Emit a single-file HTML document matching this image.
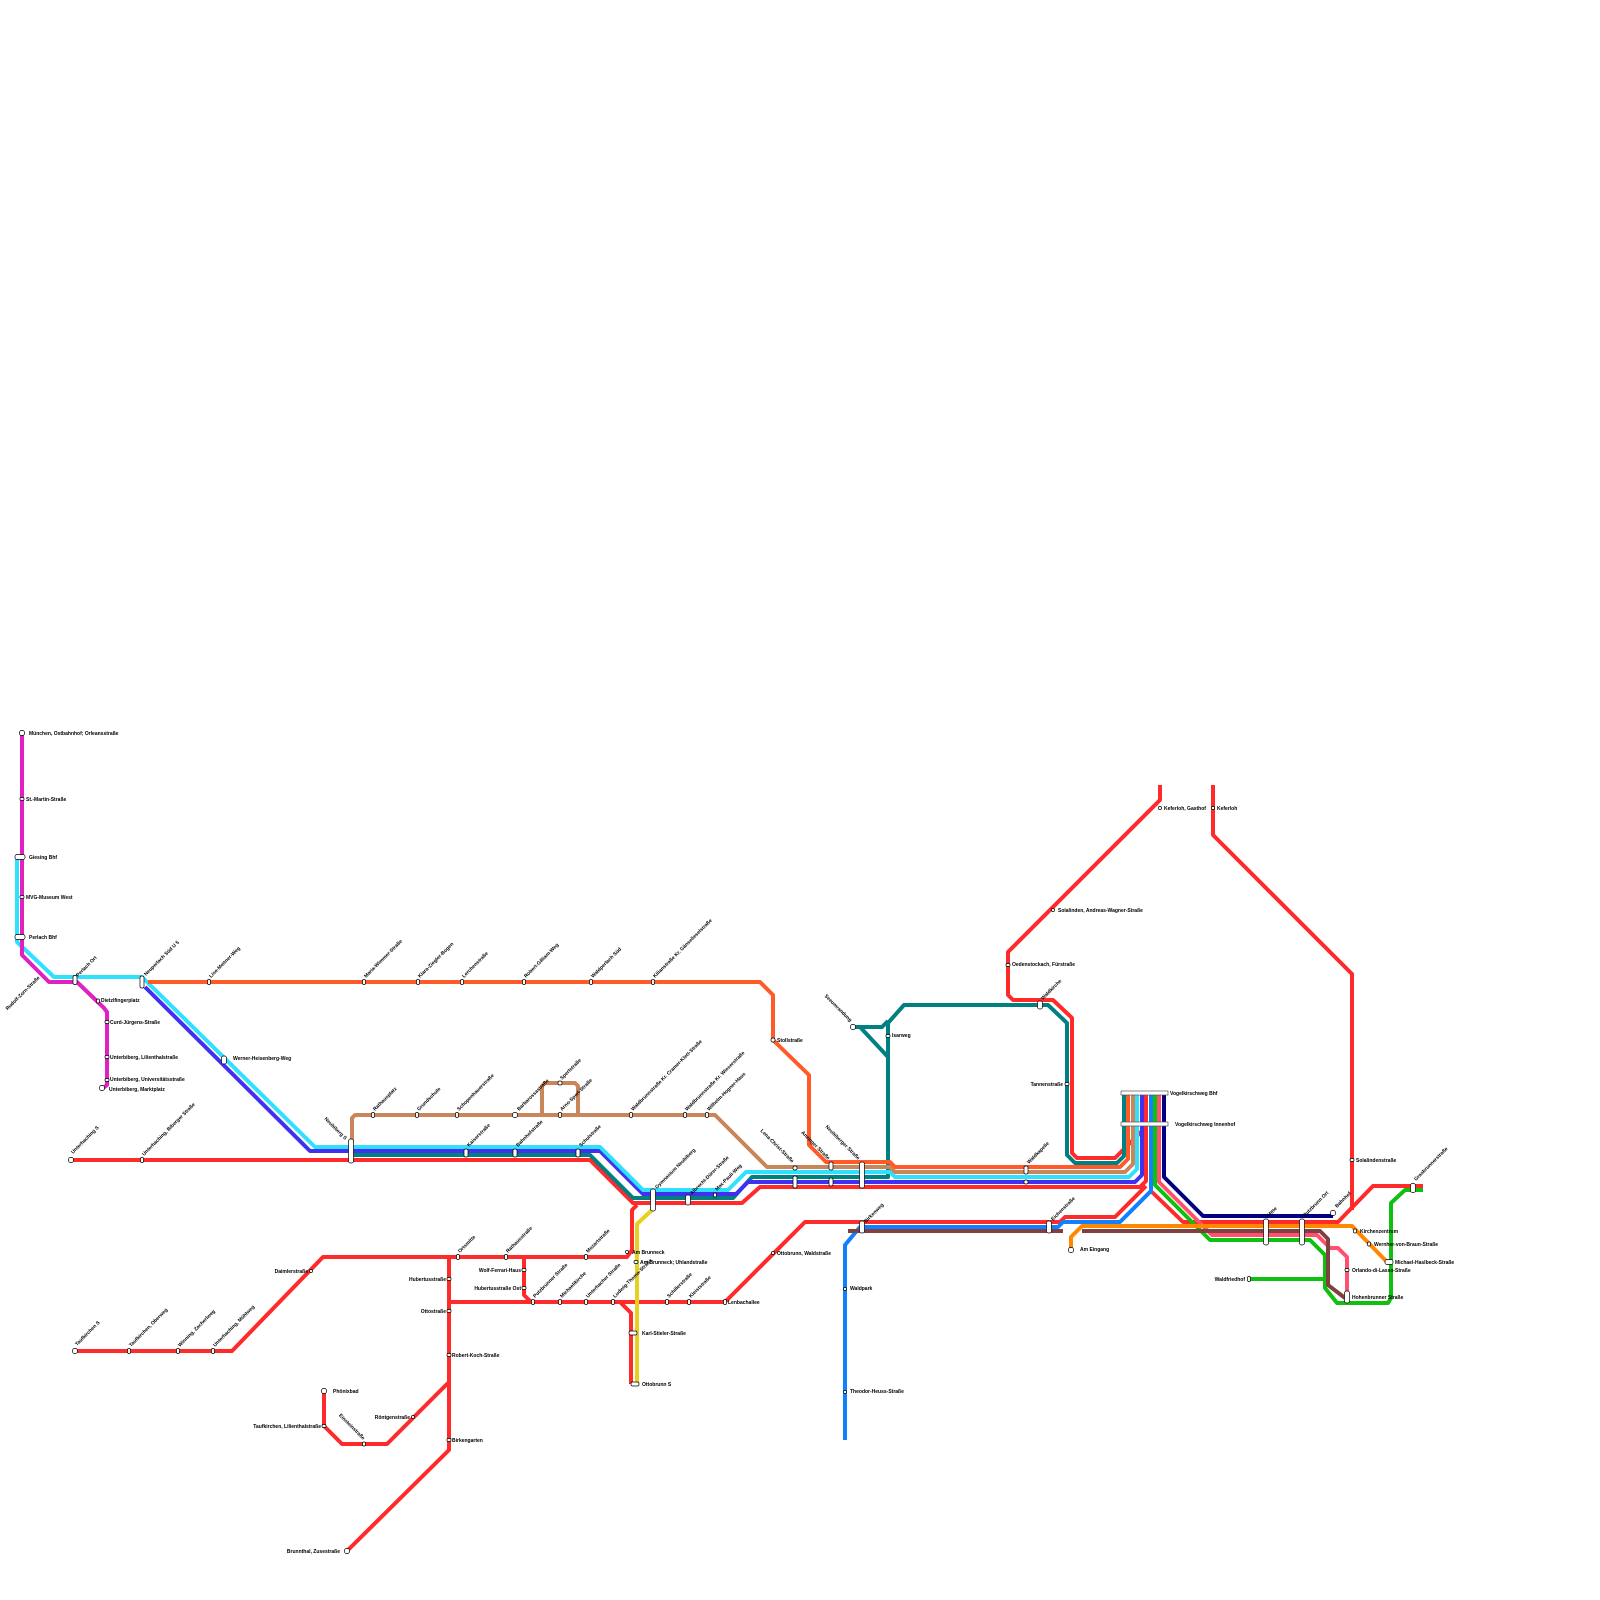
<!DOCTYPE html>
<html><head><meta charset="utf-8"><style>
html,body{margin:0;padding:0;background:#fff;}
svg{display:block;}
text{font-family:"Liberation Sans",sans-serif;font-size:5px;font-weight:bold;fill:#000;}
</style></head><body>
<svg id="s" width="1600" height="1600" viewBox="0 0 1600 1600" xmlns="http://www.w3.org/2000/svg">
<g id="lines" fill="none" stroke-width="4" stroke-linejoin="round" stroke-linecap="butt"></g>
<g id="st"></g>
<g id="lb">
<text x="29" y="735">München, Ostbahnhof; Orleansstraße</text>
<text x="26" y="801">St.-Martin-Straße</text>
<text x="29" y="859">Giesing Bhf</text>
<text x="26" y="899">MVG-Museum West</text>
<text x="29" y="939">Perlach Bhf</text>
<text x="101" y="1002">Dietzlfingerplatz</text>
<text x="110" y="1024">Curd-Jürgens-Straße</text>
<text x="110" y="1059">Unterbiberg, Lilienthalstraße</text>
<text x="110" y="1081">Unterbiberg, Universitätsstraße</text>
<text x="109" y="1091">Unterbiberg, Marktplatz</text>
<text x="233" y="1060">Werner-Heisenberg-Weg</text>
<text x="777" y="1042">Stollstraße</text>
<text x="892" y="1037">Isarweg</text>
<text x="1012" y="966">Oedenstockach, Fürstraße</text>
<text x="1063" y="1086" text-anchor="end">Tannenstraße</text>
<text x="1170" y="1095">Vogelkirschweg Bhf</text>
<text x="1175" y="1126">Vogelkirschweg Innenhof</text>
<text x="1058" y="912">Solalinden, Andreas-Wagner-Straße</text>
<text x="1164" y="810">Keferloh, Gasthof</text>
<text x="1217" y="810">Keferloh</text>
<text x="1356" y="1162">Solalindenstraße</text>
<text x="1360" y="1233">Kirchenzentrum</text>
<text x="1374" y="1246">Wernher-von-Braun-Straße</text>
<text x="1395" y="1264">Michael-Haslbeck-Straße</text>
<text x="1352" y="1272">Orlando-di-Lasso-Straße</text>
<text x="1352" y="1299">Hohenbrunner Straße</text>
<text x="1245" y="1281" text-anchor="end">Waldfriedhof</text>
<text x="1080" y="1251">Am Eingang</text>
<text x="632" y="1254">Am Brunneck</text>
<text x="640" y="1264">Am Brunneck; Uhlandstraße</text>
<text x="642" y="1335">Karl-Stieler-Straße</text>
<text x="642" y="1386">Ottobrunn S</text>
<text x="777" y="1255">Ottobrunn, Waldstraße</text>
<text x="728" y="1304">Lenbachallee</text>
<text x="850" y="1290">Waldpark</text>
<text x="850" y="1393">Theodor-Heuss-Straße</text>
<text x="452" y="1357">Robert-Koch-Straße</text>
<text x="452" y="1442">Birkengarten</text>
<text x="333" y="1393">Phönixbad</text>
<text x="321" y="1428" text-anchor="end">Taufkirchen, Lilienthalstraße</text>
<text x="410" y="1419" text-anchor="end">Röntgenstraße</text>
<text x="340" y="1553" text-anchor="end">Brunnthal, Zusestraße</text>
<text x="446" y="1281" text-anchor="end">Hubertusstraße</text>
<text x="446" y="1313" text-anchor="end">Ottostraße</text>
<text x="521" y="1272" text-anchor="end">Wolf-Ferrari-Haus</text>
<text x="521" y="1290" text-anchor="end">Hubertusstraße Ost</text>
<text x="308" y="1273" text-anchor="end">Daimlerstraße</text>
</g>
<g id="rl"></g>
</svg>
<script>
var NS="http://www.w3.org/2000/svg";
function el(t,a,p){var e=document.createElementNS(NS,t);for(var k in a)e.setAttribute(k,a[k]);document.getElementById(p).appendChild(e);return e;}
var L=[
["#ff2a2a","71,1160 590,1160 633,1203 742,1203 760,1187 1140,1187 1146,1181 1146,1093"],
["#ff2a2a","1160,785 1160,800 1008,952 1008,995 1013,1000 1053,1000 1072,1018 1072,1153 1077,1158 1115,1158 1146,1127"],
["#ff2a2a","1213,785 1213,835 1352,974 1352,1210"],
["#ff2a2a","1152,1192 1183,1222 1338,1222 1373,1186 1423,1186"],
["#ff2a2a","725,1302 805,1222 1060,1222 1065,1217 1115,1217 1146,1186"],
["#ff2a2a","637,1205 632,1210 632,1250 627,1257 323,1257 232,1351 75,1351"],
["#ff2a2a","449,1257 449,1450 347,1551"],
["#ff2a2a","449,1302 725,1302"],
["#ff2a2a","524,1257 524,1295 531,1302"],
["#ff2a2a","620,1302 631,1313 631,1384"],
["#ff2a2a","324,1391 324,1426 342,1444 387,1444 448,1383"],
["#e8d020","652,1210 637,1224 637,1384"],
["#008080","352,1155 590,1155 633,1198 733,1198 752,1177 888,1177 888,1023 904,1005 1048,1005 1067,1023 1067,1155 1075,1163 1117,1163 1124,1156 1124,1093"],
["#008080","853,1027 882,1027 888,1021"],
["#008080","860,1027 888,1057"],
["#4030f0","145,987 310,1151 600,1151 643,1194 736,1194 748,1182 1135,1182 1142,1175 1142,1093"],
["#30e0ff","17,857 17,942 54,977 142,977 315,1147 600,1147 643,1190 728,1190 746,1172 890,1172 895,1177 1129,1177 1137,1169 1137,1093"],
["#c8865a","352,1142 352,1118 355,1115 715,1115 767,1167 890,1167 895,1172 1125,1172 1133,1164 1133,1093"],
["#c8865a","542,1115 542,1086 545,1083 575,1083 578,1086 578,1115"],
["#ff5a28","148,982 760,982 773,995 773,1040 809,1075 809,1145 826,1162 890,1162 895,1167 1120,1167 1128,1159 1128,1093"],
["#e020c0","22,733 22,955 49,982 77,982 104,1008 107,1012 107,1085 102,1089"],
["#1080ff","845,1440 845,1245 860,1227 1058,1227 1063,1222 1120,1222 1151,1191 1151,1093"],
["#10c010","1155,1093 1155,1185 1210,1240 1310,1240 1325,1255 1325,1288 1337,1303 1388,1303 1391,1298 1391,1203 1405,1190 1423,1190"],
["#10c010","1249,1279 1325,1279"],
["#ff5070","1159,1093 1159,1182 1212,1235 1317,1235 1330,1248 1338,1248 1347,1257 1347,1297"],
["#000080","1164,1093 1164,1177 1203,1216 1333,1216"],
["#804040","848,1231 1063,1231"],
["#804040","1082,1231 1320,1231 1328,1239 1328,1285 1345,1298"],
["#ff8800","1071,1249 1071,1237 1082,1226 1352,1226 1387,1262"]
];
L.forEach(function(l){el("polyline",{points:l[1],stroke:l[0]},"lines");});
// stations: x,y,w,h
var S=[[22,733,5,5],[22,799,4,3],[20,857,10,5],[22,897,4,3],[20,937,10,5],[75,980,4,9],[142,982,4,12],
[98,1001,3,4],[107,1022,4,3],[107,1057,4,3],[107,1080,4,3],[102,1088,5,5],[224,1060,5,8],
[209,982,3,5],[364,982,3,5],[418,982,3,5],[462,982,3,5],[524,982,3,5],[591,982,3,5],[653,982,3,5],
[373,1115,3,5],[417,1115,3,5],[457,1115,3,5],[515,1115,5,5],[560,1115,3,5],[560,1083,4,4],[631,1115,3,5],[685,1115,3,5],[707,1115,3,5],
[351,1151,5,24],[466,1153,4,8],[515,1153,4,8],[578,1153,4,8],[653,1200,5,22],[688,1200,5,10],[715,1195,3,4],
[795,1168,4,4],[795,1182,4,12],[831,1166,4,8],[831,1182,4,8],[862,1175,5,26],[1026,1170,4,8],[1026,1182,4,4],
[853,1027,5,5],[888,1036,4,3],[1040,1005,5,8],[1008,965,4,3],[1067,1084,4,3],[1053,910,3,3],[1160,808,3,3],[1213,808,3,3],
[862,1227,5,12],[1049,1227,5,12],[1071,1250,5,5],[773,1040,4,4],[1352,1160,4,3],
[1266,1232,5,26],[1302,1232,5,26],[1333,1213,5,5],[1355,1231,3,4],[1369,1244,3,4],[1389,1262,8,5],[1347,1270,4,3],[1347,1297,5,12],[1249,1279,3,5],[1413,1188,5,9],
[71,1160,5,5],[142,1160,3,5],[75,1351,5,5],[129,1351,3,5],[178,1351,3,5],[213,1351,3,5],[311,1271,3,3],
[458,1257,3,5],[506,1257,3,5],[586,1257,3,5],[627,1252,3,3],[636,1262,4,3],[449,1279,4,3],[524,1270,4,3],[524,1288,4,3],[449,1311,4,3],
[533,1302,3,5],[560,1302,3,5],[586,1302,3,5],[613,1302,3,5],[667,1302,3,5],[689,1302,3,5],[725,1302,3,5],
[633,1333,8,4],[635,1384,8,4],[773,1253,3,3],[449,1355,4,3],[449,1440,4,3],[324,1391,5,5],[324,1426,4,3],[413,1417,3,3],[364,1444,3,4],[347,1551,5,5],
[845,1289,3,3],[845,1392,3,3]];
S.forEach(function(s){el("rect",{x:s[0]-s[2]/2,y:s[1]-s[3]/2,width:s[2],height:s[3],rx:Math.min(s[2],s[3])/2.5,fill:"#fff",stroke:"#000","stroke-width":0.7},"st");});
el("rect",{x:1121,y:1091,width:47,height:4,fill:"#fff",stroke:"#555","stroke-width":0.7},"st");
el("rect",{x:1121,y:1122,width:47,height:4,fill:"#fff",stroke:"#555","stroke-width":0.7},"st");
// rotated labels
var R=[[78,977,"Perlach Ort"],[146,976,"Neuperlach Süd U 5"],[211,978,"Lise-Meitner-Weg"],[366,978,"Maria-Wimmer-Straße"],[420,978,"Klara-Ziegler-Bogen"],[464,978,"Lerchenstraße"],[526,978,"Robert-Gilliam-Weg"],[593,978,"Waldperlach Süd"],[655,978,"Kilianstraße Kr. Gänselieselstraße"],
[375,1111,"Rathausplatz"],[419,1111,"Grundschule"],[459,1111,"Schopenhauerstraße"],[519,1111,"Barbarossastraße"],[562,1111,"Arno-Sperl-Straße"],[562,1080,"Sperlstraße"],[633,1111,"Waldbrunnstraße Kr. Cramer-Klett-Straße"],[687,1111,"Waldbrunnstraße Kr. Wieserstraße"],[709,1111,"Wilhelm-Hogner-Haus"],
[469,1147,"Kaiserstraße"],[518,1147,"Bahnhofstraße"],[581,1147,"Schulstraße"],[657,1189,"Gymnasium Neubiberg"],[692,1195,"Albrecht-Dürer-Straße"],[717,1191,"Max-Pauli-Weg"],[1029,1164,"Waldkapelle"],[866,1223,"Birkenweg"],[1053,1221,"Eichenstraße"],[1043,1000,"Waldkirche"],
[73,1154,"Unterhaching S"],[144,1156,"Unterhaching, Biberger Straße"],[77,1346,"Taufkirchen S"],[131,1347,"Taufkirchen, Oberweg"],[180,1347,"Winning, Zacherlweg"],[215,1347,"Unterhaching, Mühlweg"],
[460,1253,"Ortsmitte"],[508,1253,"Rathausstraße"],[588,1253,"Mozartstraße"],[535,1298,"Putzbrunner Straße"],[562,1298,"Michaelikirche"],[588,1298,"Unterhacher Straße"],[615,1298,"Ludwig-Thoma-Straße"],[669,1298,"Schillerstraße"],[691,1298,"Kleiststraße"],
[1269,1217,"Mitte"],[1305,1217,"Putzbrunn Ort"],[1337,1208,"Bahnhof"],[1416,1181,"Grasbrunnerstraße"]];
R.forEach(function(r){var t=el("text",{x:r[0],y:r[1],transform:"rotate(-45 "+r[0]+" "+r[1]+")"},"rl");t.textContent=r[2];});
var R2=[[345,1140,"Neubiberg S"],[40,978,"Rudolf-Zorn-Straße"],[792,1163,"Lena-Christ-Straße"],[828,1160,"Anzinger Straße"],[858,1160,"Neubiberger Straße"],[850,1022,"Seeumrandung"],[363,1440,"Einsteinstraße"]];
R2.forEach(function(r){var a=r[2]=="Rudolf-Zorn-Straße"?-45:45;var t=el("text",{x:r[0],y:r[1],"text-anchor":"end",transform:"rotate("+a+" "+r[0]+" "+r[1]+")"},"rl");t.textContent=r[2];});
</script>
</body></html>
